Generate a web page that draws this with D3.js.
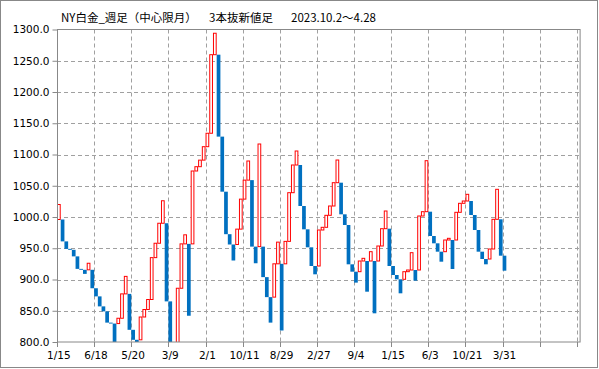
<!DOCTYPE html>
<html><head><meta charset="utf-8">
<script src="https://cdn.jsdelivr.net/npm/d3@7"></script>
<style>body{margin:0;background:#fff}svg{display:block}</style>
</head><body><svg id="c" width="599" height="369"></svg>
<script>
// ---- data ----
const titleMain = "NY白金_週足（中心限月）";
const titleType = "3本抜新値足";
const titlePeriod = "2023.10.2〜4.28";
const firstOpen = 996;
const lineCloses = [
 1020, 961, 949, 947.5, 937, 917, 915.5, 909, 926, 886,
 873, 857, 849, 831, 829.5, 785, 838, 877, 905, 819.5,
 803.5, 795, 840, 852, 868, 935, 958, 990, 1026, 865,
 750, 620, 886, 957, 971.5, 842, 1073.6, 1080.5, 1091, 1112.5,
 1134, 1259.7, 1294, 1128.6, 1040.5, 972.5, 956, 930.4, 980.6, 1028.6,
 1059, 1089.6, 952.6, 926, 1116.8, 903.8, 871.8, 831, 925.1, 959.8,
 818.4, 961, 1038.9, 1083.2, 1105.6, 1017.6, 980.3, 951.5, 921.6, 908.3,
 979.2, 983.5, 1002.7, 1017.6, 1054.9, 1091.2, 1004.3, 987.2, 924.3, 912.5,
 895, 929.6, 933.9, 880.5, 944.5, 845.9, 953.6, 981.3, 1009.6, 921.6,
 907.2, 900.3, 877.9, 912.5, 915.2, 942.9, 898.1, 1001.6, 1008.5, 1090.1,
 969.6, 957.9, 944.5, 928.5, 963.2, 965.9, 916.8, 1007.5, 1021.9, 1025.6,
 1036.3, 1003.2, 979.2, 944.5, 932.8, 924.3, 948.8, 996.3, 1044.3, 938.1,
 914.1
];
const tickLabels = ["1/15","6/18","5/20","3/9","2/1","10/11","8/29","2/27","9/4","1/15","6/3","10/21","3/31"];
const tickEvery = 10;
const slotCount = 141;
const yTicks = [800, 850, 900, 950, 1000, 1050, 1100, 1150, 1200, 1250, 1300];

// ---- build lines (three-line break: open from previous line's edge) ----
const lines = [];
let prevTop = null, prevBot = null;
lineCloses.forEach((c, i) => {
  let open, up;
  if (i === 0) { open = firstOpen; up = c > open; }
  else if (c > prevTop) { up = true; open = prevTop; }
  else { up = false; open = prevBot; }
  lines.push({ i, open, close: c, up });
  prevTop = Math.max(open, c); prevBot = Math.min(open, c);
});

// ---- chart ----
const svg = d3.select("#c");
const L = 57, R = 580.6, T = 29.5, B = 342;
const FONT = "'DejaVu Sans', sans-serif";
const x = d3.scaleBand().domain(d3.range(slotCount)).range([L, R]).padding(0);
const y = d3.scaleLinear().domain([yTicks[0], yTicks[yTicks.length - 1]]).range([B, T]);
const bw = x.bandwidth();

svg.append("rect").attr("x", 0.5).attr("y", 0.5).attr("width", 597).attr("height", 367)
  .attr("fill", "#fff").attr("stroke", "#888").attr("stroke-width", 1);

// title
const tt = svg.append("text").attr("y", 21.5).attr("font-family", "'Noto Sans CJK JP', sans-serif")
  .attr("font-size", 11.5).attr("fill", "#000");
tt.append("tspan").attr("x", 61).text(titleMain);
tt.append("tspan").attr("x", 209).text(titleType);
tt.append("tspan").attr("x", 291).text(titlePeriod);

// gridlines
const grid = svg.append("g").attr("stroke", "#a0a0a0").attr("stroke-width", 1).attr("stroke-dasharray", "4,3");
grid.selectAll("line.h").data(yTicks.slice(1, -1)).join("line")
  .attr("x1", L).attr("x2", R).attr("y1", d => Math.round(y(d)) + 0.5).attr("y2", d => Math.round(y(d)) + 0.5);
const vIdx = d3.range(tickEvery, slotCount, tickEvery);
grid.selectAll("line.v").data(vIdx).join("line")
  .attr("x1", d => Math.round(x(d)) + 0.5).attr("x2", d => Math.round(x(d)) + 0.5)
  .attr("y1", T).attr("y2", B);

// bars
svg.append("clipPath").attr("id", "clip").append("rect")
  .attr("x", L).attr("y", T).attr("width", R - L).attr("height", B - T);
const bars = svg.append("g").attr("clip-path", "url(#clip)");
bars.selectAll("rect").data(lines).join("rect")
  .attr("x", d => x(d.i) + (d.up ? 0.5 : 0))
  .attr("width", d => d.up ? bw - 1 : bw)
  .attr("y", d => y(Math.max(d.open, d.close)))
  .attr("height", d => Math.abs(y(d.open) - y(d.close)))
  .attr("fill", d => d.up ? "#fff" : "#0070c0")
  .attr("stroke", d => d.up ? "#ff0000" : "none")
  .attr("stroke-width", 1);

// plot frame
svg.append("rect").attr("x", L + 0.5).attr("y", T).attr("width", R - L - 1).attr("height", B - T)
  .attr("fill", "none").attr("stroke", "#888").attr("stroke-width", 1);

// y axis
const yAxis = d3.axisLeft(y).tickValues(yTicks).tickFormat(d3.format(".1f")).tickSize(5).tickPadding(3);
const ya = svg.append("g").attr("transform", `translate(${L + 0.5},0)`).call(yAxis);
ya.select(".domain").remove();
ya.selectAll(".tick line").attr("stroke", "#888");
ya.selectAll("text").attr("font-family", FONT).attr("font-size", 10.5).attr("fill", "#000");

// x axis
const xAxis = d3.axisBottom(x).tickValues(d3.range(0, slotCount, tickEvery)).tickSize(0).tickPadding(10)
  .tickFormat(d => tickLabels[d / tickEvery] || "");
const xa = svg.append("g").attr("transform", `translate(0,${B})`).call(xAxis);
xa.select(".domain").remove();
xa.selectAll("text").attr("font-family", FONT).attr("font-size", 10.5).attr("fill", "#000");
svg.append("g").selectAll("line").data(d3.range(0, slotCount, tickEvery)).join("line")
  .attr("x1", d => Math.round(x(d)) + 0.5).attr("x2", d => Math.round(x(d)) + 0.5)
  .attr("y1", B).attr("y2", B + 5).attr("stroke", "#888");
</script></body></html>
